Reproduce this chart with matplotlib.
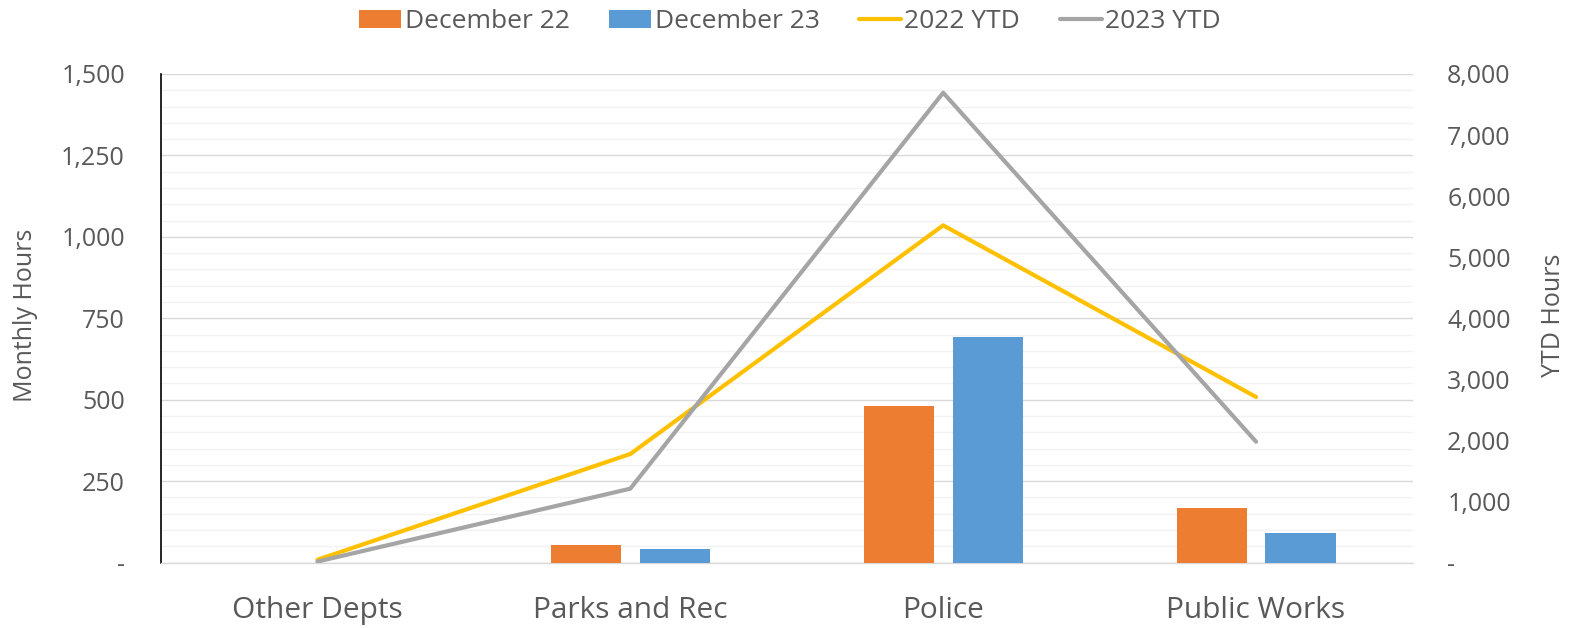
import matplotlib
matplotlib.use("Agg")
import matplotlib.pyplot as plt
import numpy as np
from matplotlib.ticker import MultipleLocator, FuncFormatter
from matplotlib.patches import Patch
from matplotlib.lines import Line2D

# ---- data ----
categories = ["Other Depts", "Parks and Rec", "Police", "Public Works"]
dec22 = [0, 53, 481, 167]
dec23 = [0, 40, 692, 90]
ytd2022 = [45, 1777, 5522, 2710]
ytd2023 = [15, 1209, 7694, 1978]

series_labels = ["December 22", "December 23", "2022 YTD", "2023 YTD"]
left_ticks = [0, 250, 500, 750, 1000, 1250, 1500]
right_ticks = [0, 1000, 2000, 3000, 4000, 5000, 6000, 7000, 8000]

# ---- style ----
C_ORANGE = "#ED7D31"
C_BLUE = "#5B9BD5"
C_YELLOW = "#FFC000"
C_GRAY = "#A5A5A5"
TXT = "#595959"
FONT = ["Open Sans", "DejaVu Sans"]
plt.rcParams["font.family"] = FONT

W, H = 1576, 628
fig = plt.figure(figsize=(W / 100, H / 100), dpi=100)
L, R, T, B = 161, 1412.5, 74, 562.5
ax = fig.add_axes([L / W, 1 - B / H, (R - L) / W, (B - T) / H])

x = np.arange(len(categories))
bw = 0.224
off = 0.142
ax.bar(x - off, dec22, width=bw, color=C_ORANGE, zorder=3)
ax.bar(x + off, dec23, width=bw, color=C_BLUE, zorder=3)

ax.set_xlim(-0.5, len(categories) - 0.5)
ax.set_ylim(0, 1500)
ax.set_yticks(left_ticks)
ax.yaxis.set_minor_locator(MultipleLocator(50))
fmt = FuncFormatter(lambda v, p: "-" if v == 0 else f"{v:,.0f}")
ax.yaxis.set_major_formatter(fmt)
ax.set_axisbelow(True)
ax.grid(which="major", axis="y", color="#D9D9D9", lw=1.0, zorder=0)
ax.grid(which="minor", axis="y", color="#F2F2F2", lw=1.0, zorder=0)
ax.set_xticks(x)
ax.set_xticklabels(categories)
ax.tick_params(axis="x", which="both", length=0, pad=24, labelsize=21.5, labelcolor=TXT)
ax.tick_params(axis="y", which="both", length=0, pad=26, labelsize=18, labelcolor=TXT)
for s in ["top", "right"]:
    ax.spines[s].set_visible(False)
ax.spines["left"].set_color("#000000")
ax.spines["left"].set_linewidth(1.2)
ax.spines["bottom"].set_color("#D9D9D9")
ax.spines["bottom"].set_linewidth(1.0)

ax2 = ax.twinx()
ax2.plot(x, ytd2022, color=C_YELLOW, lw=3.0, solid_capstyle="round", zorder=4)
ax2.plot(x, ytd2023, color=C_GRAY, lw=3.0, solid_capstyle="round", zorder=4)
ax2.set_ylim(0, 8000)
ax2.set_yticks(right_ticks)
ax2.yaxis.set_major_formatter(fmt)
ax2.tick_params(axis="y", length=0, pad=25, labelsize=18, labelcolor=TXT)
for s in ax2.spines.values():
    s.set_visible(False)

fig.text(25.7 / W, 1 - 315 / H, "Monthly Hours", rotation=90, ha="center", va="center",
         fontsize=18, color=TXT)
fig.text(1553.5 / W, 1 - 315.5 / H, "YTD Hours", rotation=90, ha="center", va="center",
         fontsize=18, color=TXT)

handles = [
    Patch(facecolor=C_ORANGE, edgecolor="none"),
    Patch(facecolor=C_BLUE, edgecolor="none"),
    Line2D([], [], color=C_YELLOW, lw=3.0, solid_capstyle="round"),
    Line2D([], [], color=C_GRAY, lw=3.0, solid_capstyle="round"),
]
leg = fig.legend(handles, series_labels, loc="center", bbox_to_anchor=(790 / W, 1 - 22 / H),
                 ncol=4, frameon=False, fontsize=19, handlelength=1.6, handleheight=0.66,
                 handletextpad=0.12, columnspacing=1.5, borderpad=0, borderaxespad=0)
for t in leg.get_texts():
    t.set_color(TXT)

fig.savefig("out.png", dpi=100)
